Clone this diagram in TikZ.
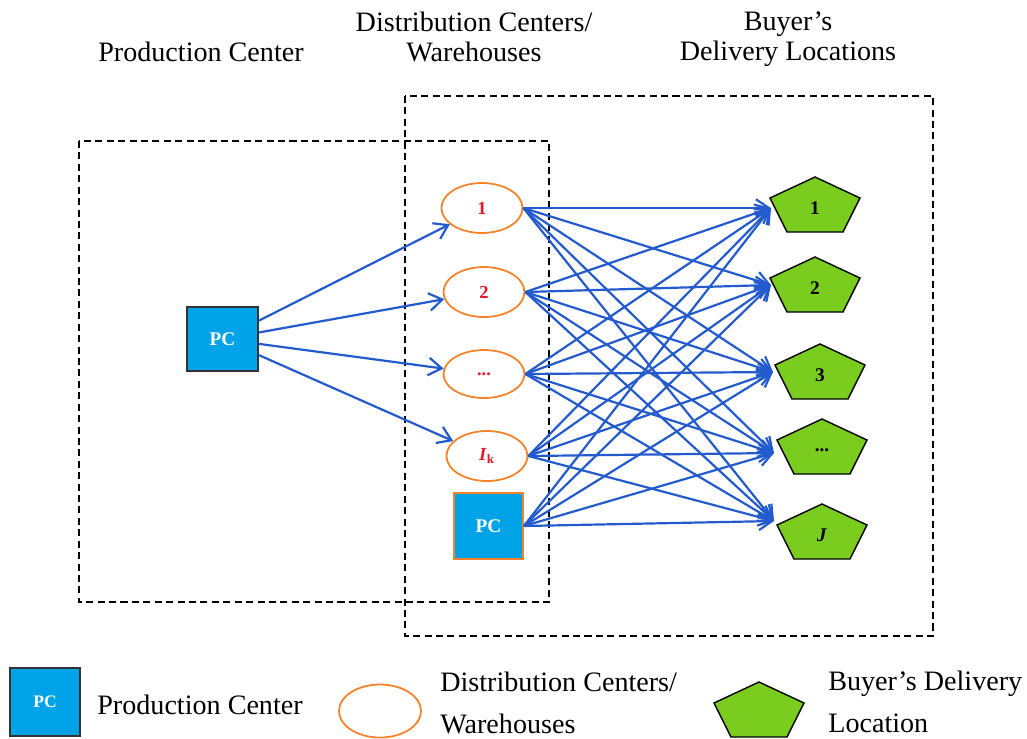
\documentclass[tikz,border=0pt]{standalone}
\usepackage{fontspec}
\setmainfont{Liberation Serif}
\usetikzlibrary{arrows.meta,shapes.geometric}

\definecolor{flow}{RGB}{35,90,205}
\definecolor{pcblue}{RGB}{0,162,232}
\definecolor{dcorange}{RGB}{245,130,40}
\definecolor{dcred}{RGB}{235,20,40}
\definecolor{buyergreen}{RGB}{122,204,30}

\tikzset{
  flowarrow/.style={draw=flow, line width=1.25pt, -{Straight Barb[length=7.5pt,width=10pt]}},
  region/.style={draw=black, line width=0.7pt, dash pattern=on 4pt off 2.5pt},
  pcbox/.style={rectangle, fill=pcblue, text=white, line width=1pt,
    font=\fontsize{11}{13}\selectfont\bfseries, inner sep=0pt},
  dcnode/.style={ellipse, draw=dcorange, line width=1pt, fill=white,
    minimum width=1.62cm, minimum height=1cm, inner sep=0pt, text=dcred,
    font=\fontsize{10.5}{12}\selectfont\bfseries},
  buyershape/.style={draw=black, line width=0.8pt, fill=buyergreen, line join=miter},
  buyerlbl/.style={inner sep=0pt, font=\fontsize{11}{13}\selectfont\bfseries},
  head/.style={align=center, inner sep=0pt, font=\fontsize{16}{17}\selectfont},
  legtext/.style={align=left, anchor=west, inner sep=0pt, font=\fontsize{16}{23.5}\selectfont},
}

% buyer location: pentagon around a label, plus the point where flows arrive
% #1 name, #2 label position, #3 label, #4 arrival point
\newcommand{\buyer}[4]{%
  \draw[buyershape, shift={(#2)}] (0,-31) -- (45,-10) -- (28,24) -- (-28,24) -- (-45,-10) -- cycle;
  \node[buyerlbl] (#1) at (#2) {#3};
  \coordinate (#1-in) at (#4);
}

\begin{document}
\begin{tikzpicture}[x=0.02cm, y=-0.02cm]
\useasboundingbox (0,0) rectangle (1027,738);

% column headings
\node[head] (h1) at (201,52) {Production Center};
\node[head] (h2) at (474,37) {Distribution Centers/\\Warehouses};
\node[head] (h3) at (788,39) {Buyer’s\\Delivery Locations};

% regions
\draw[region] (79,141) rectangle (549,602);
\draw[region] (405,96) rectangle (933,636);

% production centre and distribution centres
\node[pcbox, draw=black!80, minimum width=1.42cm, minimum height=1.28cm] (bpc) at (222.5,339) {PC};
\node[dcnode] (e1) at (482,208) {1};
\node[dcnode] (e2) at (484,292) {2};
\node[dcnode, minimum height=0.96cm] (e3) at (484,374) {...};
\node[dcnode] (e4) at (487,456) {\textit{I}\textsubscript{k}};
\node[pcbox, draw=dcorange, minimum width=1.38cm, minimum height=1.32cm] (spc) at (488.5,526) {PC};

% buyer delivery locations
\buyer{b1}{815,208}{1}{771,208}
\buyer{b2}{815,288}{2}{771,285}
\buyer{b3}{820,375}{3}{773,372}
\buyer{b4}{822,450}{...}{774,453}
\buyer{b5}{822,535}{\textit{J}}{774,521}

% flows
\foreach \t in {e1,e2,e3,e4}
  \draw[flowarrow] (bpc) -- (\t);
\foreach \s in {e1,e2,e3,e4,spc}
  \foreach \t in {b1,b2,b3,b4,b5}
    \draw[flowarrow] (\s.east) -- (\t-in);

% legend
\node[pcbox, draw=black!80, minimum width=1.4cm, minimum height=1.36cm,
  font=\fontsize{10}{12}\selectfont\bfseries] (lpc) at (45,702) {PC};
\node[legtext] (lpct) at (97,705) {Production Center};
\node[dcnode, minimum width=1.64cm, minimum height=1.06cm] (ldc) at (380,711) {};
\node[legtext] (ldct) at (440,703) {Distribution Centers/\\Warehouses};
\buyer{lb}{759,713}{}{714,713}
\node[legtext] (lbt) at (828,702) {Buyer’s Delivery\\Location};
\end{tikzpicture}
\end{document}
